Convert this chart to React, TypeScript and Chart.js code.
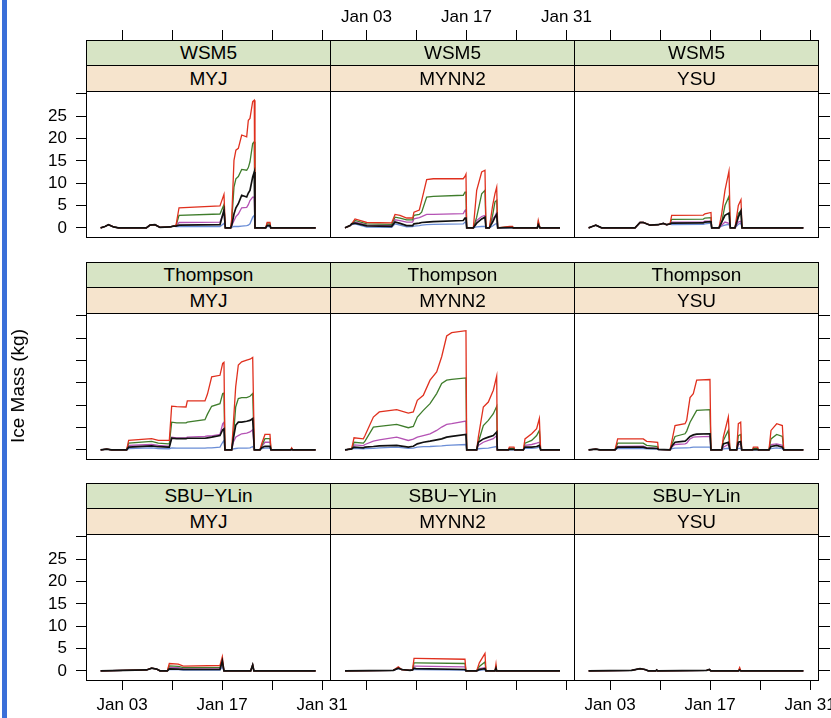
import React, { useEffect, useRef } from "react";
import { Chart, registerables } from "chart.js";

Chart.register(...registerables);

// ---------- data ----------
const X_TICKS = [3, 10, 17, 24, 31];
const X_LABELS = ["Jan 03", "", "Jan 17", "", "Jan 31"];
const Y_TICKS = [0, 5, 10, 15, 20, 25, 30];
const Y_LABELS = ["0", "5", "10", "15", "20", "25", ""];

const ROW_NAMES = ["WSM5", "Thompson", "SBU\u2212YLin"];
const COL_NAMES = ["MYJ", "MYNN2", "YSU"];

// Panel 1: WSM5 / MYJ
const P1_T = [0.0, 0.6, 1.1, 1.8, 2.5, 6.4, 6.9, 7.6, 8.3, 9.7, 10.2, 10.55, 10.97, 16.7, 17.26, 17.45, 18.2, 18.34, 18.66, 18.93, 19.27, 19.74, 20.44, 20.67, 20.9, 21.28, 21.5, 21.6, 23.1, 23.3, 23.7, 23.8, 30.1];
const P1_RED = [0, 0.3, 0.7, 0.2, 0, 0, 0.6, 0.7, 0.1, 0.2, 0.4, 0.6, 4.5, 4.9, 7.5, 0, 0, 2.0, 15.1, 17.4, 17.8, 20.8, 20.4, 24.1, 24.5, 28.3, 28.6, 0, 0, 1.2, 1.2, 0, 0];
const P1_GREEN = [0, 0.3, 0.7, 0.2, 0, 0, 0.6, 0.7, 0.1, 0.2, 0.4, 0.5, 2.8, 3.1, 5.2, 0, 0, 1.3, 9.1, 11.0, 11.5, 13.1, 12.9, 13.5, 14.8, 18.9, 19.3, 0, 0, 0.9, 0.9, 0, 0];
const P1_PURPLE = [0, 0.3, 0.7, 0.2, 0, 0, 0.6, 0.7, 0.1, 0.2, 0.4, 0.4, 1.2, 1.3, 3.5, 0, 0, 0.5, 1.6, 2.5, 3.1, 4.5, 4.6, 5.2, 6.1, 6.9, 6.9, 0, 0, 0.6, 0.6, 0, 0];
const P1_BLACK = [0, 0.3, 0.7, 0.2, 0, 0, 0.6, 0.7, 0.1, 0.2, 0.4, 0.4, 0.6, 0.7, 4.0, 0, 0, 0.5, 3.1, 4.5, 5.4, 7.3, 6.9, 7.8, 8.4, 11.4, 12.5, 0, 0, 0.5, 0.5, 0, 0];
const P1_BLUE = [0, 0.3, 0.7, 0.2, 0, 0, 0.6, 0.7, 0.1, 0.2, 0.4, 0.3, 0.3, 0.3, 1.0, 0, 0, 0.1, 0.3, 0.3, 0.3, 0.4, 0.5, 0.6, 0.9, 2.4, 2.8, 0, 0, 0.3, 0.3, 0, 0];

// Panel 2: WSM5 / MYNN2
const P2_T = [0.05, 0.75, 1.0, 1.45, 3.1, 6.58, 7.05, 7.75, 8.68, 9.52, 9.7, 10.45, 10.78, 11.48, 12.41, 16.6, 16.84, 16.98, 17.08, 18.01, 18.48, 19.18, 19.64, 19.78, 20.25, 20.71, 21.04, 21.28, 21.42, 23.1, 23.5, 23.6, 26.97, 27.1, 27.34, 30.14];
const P2_RED = [0, 0.5, 0.9, 2.0, 1.2, 1.1, 3.0, 2.8, 2.2, 2.2, 3.5, 4.0, 6.1, 10.8, 11.0, 11.0, 11.5, 12.0, 0, 0, 8.4, 12.5, 12.9, 0, 0, 5.0, 7.65, 9.1, 0, 0.3, 0.3, 0, 0, 1.65, 0, 0];
const P2_GREEN = [0, 0.5, 0.9, 1.65, 0.9, 0.8, 2.4, 2.2, 1.8, 1.8, 2.8, 3.0, 3.5, 6.9, 7.05, 7.3, 8.0, 8.0, 0, 0, 2.4, 7.6, 8.4, 0, 0, 2.8, 5.8, 6.15, 0, 0.2, 0.2, 0, 0, 1.3, 0, 0];
const P2_PURPLE = [0, 0.5, 0.9, 1.3, 0.6, 0.5, 1.8, 1.6, 1.3, 1.3, 2.0, 2.3, 2.5, 3.0, 3.0, 3.2, 3.9, 4.05, 0, 0, 1.65, 2.55, 2.8, 0, 0, 2.0, 2.6, 3.5, 0, 0.1, 0.1, 0, 0, 0.9, 0, 0];
const P2_BLACK = [0, 0.5, 0.9, 1.05, 0.45, 0.35, 1.3, 1.0, 0.5, 0.5, 0.9, 1.05, 1.2, 1.3, 1.4, 1.65, 2.2, 2.2, 0, 0, 1.05, 2.0, 2.4, 0, 0, 1.3, 2.4, 3.0, 0, 0.05, 0.05, 0, 0, 0.7, 0, 0];
const P2_BLUE = [0, 0.5, 0.7, 0.9, 0.15, 0.1, 0.9, 0.6, 0.2, 0.3, 0.4, 0.5, 0.6, 0.7, 0.8, 0.9, 1.3, 1.3, 0, 0, 0.2, 0.3, 0.3, 0, 0, 0.4, 0.8, 1.0, 0, 0, 0, 0, 0, 0.5, 0, 0];

// Panel 3: WSM5 / YSU
const P3_T = [0.0, 0.5, 1.0, 1.82, 6.49, 7.19, 7.65, 8.59, 9.75, 10.45, 10.92, 11.39, 11.62, 16.05, 16.28, 17.12, 17.22, 18.24, 18.62, 19.08, 19.64, 19.83, 20.48, 20.95, 21.32, 21.46, 30.05];
const P3_RED = [0, 0.3, 0.6, 0, 0, 1.2, 1.2, 0.6, 0.7, 1.0, 0.7, 0.9, 2.8, 2.85, 3.15, 3.45, 0, 0, 3.15, 8.4, 12.7, 0, 0, 5.0, 6.3, 0, 0];
const P3_GREEN = [0, 0.3, 0.6, 0, 0, 1.2, 1.2, 0.6, 0.7, 1.0, 0.7, 0.9, 1.9, 1.95, 2.2, 2.3, 0, 0, 1.3, 5.0, 7.05, 0, 0, 3.2, 3.9, 0, 0];
const P3_PURPLE = [0, 0.3, 0.6, 0, 0, 1.2, 1.2, 0.6, 0.7, 1.0, 0.7, 0.9, 1.3, 1.35, 1.5, 1.5, 0, 0, 0.6, 1.3, 1.0, 0, 0, 1.3, 1.5, 0, 0];
const P3_BLACK = [0, 0.3, 0.6, 0, 0, 1.2, 1.2, 0.6, 0.7, 1.0, 0.7, 0.9, 1.05, 1.1, 1.3, 1.4, 0, 0, 1.3, 2.8, 3.3, 0, 0, 2.4, 3.75, 0, 0];
const P3_BLUE = [0, 0.3, 0.6, 0, 0, 1.2, 1.2, 0.6, 0.7, 1.0, 0.7, 0.9, 0.75, 0.8, 0.9, 1.05, 0, 0, 0.4, 0.6, 0.8, 0, 0, 0.8, 1.05, 0, 0];

// Panel 4: Thompson / MYJ
const P4_T = [0.0, 0.84, 1.54, 3.64, 3.92, 7.14, 8.07, 9.47, 9.61, 9.94, 10.64, 11.95, 12.13, 14.6, 14.95, 15.54, 16.7, 17.08, 17.26, 17.4, 18.34, 18.57, 18.9, 19.27, 19.74, 20.44, 20.9, 21.28, 21.51, 22.3, 22.54, 23.0, 23.7, 23.84, 26.6, 26.73, 26.9, 30.09];
const P4_RED = [0, 0.15, 0, 0, 2.1, 2.5, 2.1, 2.1, 2.1, 9.8, 9.7, 9.6, 10.95, 10.95, 12.5, 16.35, 16.7, 19.35, 19.6, 0, 0, 5.85, 14.1, 19.0, 19.7, 20.1, 20.3, 20.7, 0, 0, 1.35, 3.45, 3.45, 0, 0, 0.45, 0, 0];
const P4_GREEN = [0, 0.15, 0, 0, 1.5, 1.9, 1.5, 1.35, 1.35, 6.2, 6.05, 6.05, 6.2, 6.75, 8.0, 9.75, 10.35, 12.6, 12.7, 0, 0, 2.85, 9.6, 11.5, 11.7, 11.7, 12.0, 12.6, 0, 0, 0.9, 2.5, 2.5, 0, 0, 0.2, 0, 0];
const P4_PURPLE = [0, 0.15, 0, 0, 1.0, 1.2, 1.0, 0.85, 0.85, 2.85, 2.7, 2.7, 2.85, 3.0, 3.1, 3.15, 3.45, 5.85, 6.2, 0, 0, 1.7, 2.85, 3.2, 3.6, 3.75, 4.0, 4.5, 0, 0, 0.7, 1.7, 1.7, 0, 0, 0.1, 0, 0];
const P4_BLACK = [0, 0.15, 0, 0, 0.6, 0.9, 0.7, 0.6, 0.6, 2.6, 2.5, 2.5, 2.6, 2.6, 2.7, 2.85, 3.2, 4.5, 4.7, 0, 0, 2.5, 5.5, 6.2, 6.2, 6.4, 6.6, 7.0, 0, 0, 0.5, 0.8, 0.8, 0, 0, 0.1, 0, 0];
const P4_BLUE = [0, 0.15, 0, 0, 0.3, 0.45, 0.3, 0.25, 0.25, 0.45, 0.4, 0.4, 0.4, 0.4, 0.45, 0.45, 0.6, 1.7, 2.1, 0, 0, 0.2, 0.3, 0.4, 0.4, 0.4, 0.45, 0.75, 0, 0, 0.3, 0.4, 0.4, 0, 0, 0, 0, 0];

// Panel 5: Thompson / MYNN2
const P5_T = [0.05, 0.98, 1.31, 2.62, 2.85, 4.02, 4.85, 7.28, 8.91, 9.61, 10.17, 11.01, 11.95, 12.88, 13.58, 14.28, 14.98, 16.98, 17.08, 18.48, 18.71, 19.41, 20.11, 20.81, 21.28, 21.37, 22.91, 23.05, 23.7, 23.8, 25.01, 25.24, 26.18, 26.87, 27.25, 27.43, 30.14];
const P5_RED = [0, 0.2, 2.7, 2.45, 3.2, 7.35, 8.5, 9.0, 8.25, 8.5, 11.1, 12.2, 15.6, 17.45, 20.85, 25.5, 26.25, 26.7, 0, 0, 2.85, 9.6, 10.7, 13.35, 16.5, 0, 0, 0.6, 0.6, 0, 0, 2.45, 3.6, 4.75, 7.0, 0, 0];
const P5_GREEN = [0, 0.2, 1.7, 1.5, 1.95, 5.1, 5.25, 5.7, 4.95, 5.25, 7.35, 8.85, 10.35, 12.6, 14.85, 15.6, 15.8, 16.1, 0, 0, 1.7, 5.45, 6.6, 8.1, 9.75, 0, 0, 0.3, 0.3, 0, 0, 1.5, 2.1, 3.2, 4.35, 0, 0];
const P5_PURPLE = [0, 0.2, 1.1, 0.95, 1.2, 1.95, 2.25, 2.85, 2.1, 2.4, 2.85, 3.2, 3.6, 4.35, 5.1, 5.7, 5.85, 6.45, 0, 0, 1.0, 1.7, 2.1, 2.5, 3.2, 0, 0, 0.2, 0.2, 0, 0, 1.0, 1.2, 1.5, 1.7, 0, 0];
const P5_BLACK = [0, 0.2, 0.6, 0.45, 0.6, 0.75, 0.9, 1.0, 0.6, 0.8, 1.35, 1.7, 1.95, 2.25, 2.45, 2.85, 3.0, 3.45, 0, 0, 1.7, 2.45, 2.85, 3.2, 4.0, 0, 0, 0.1, 0.1, 0, 0, 0.6, 0.6, 0.75, 1.0, 0, 0];
const P5_BLUE = [0, 0.2, 0.35, 0.25, 0.3, 0.35, 0.45, 0.6, 0.35, 0.4, 0.6, 0.7, 0.75, 0.85, 0.9, 1.0, 1.05, 1.2, 0, 0, 0.25, 0.35, 0.4, 0.6, 0.75, 0, 0, 0, 0, 0, 0, 0.35, 0.35, 0.45, 0.6, 0, 0];

// Panel 6: Thompson / YSU
const P6_T = [0.0, 1.0, 1.6, 3.69, 4.06, 7.65, 8.12, 9.66, 9.75, 11.39, 11.71, 12.09, 13.49, 13.72, 14.19, 14.65, 15.12, 16.98, 17.12, 18.62, 18.85, 19.55, 19.78, 20.72, 20.95, 21.28, 21.42, 22.95, 23.05, 23.66, 23.75, 25.24, 25.52, 26.32, 27.11, 27.3, 30.05];
const P6_RED = [0, 0.15, 0, 0, 2.45, 2.45, 1.9, 1.7, 0.1, 0, 2.45, 5.45, 5.85, 6.6, 11.7, 12.6, 15.6, 15.75, 0, 0, 2.85, 7.35, 0, 0, 5.85, 6.2, 0, 0, 0.6, 0.6, 0, 0, 4.35, 5.85, 5.45, 0, 0];
const P6_GREEN = [0, 0.15, 0, 0, 1.5, 1.5, 1.0, 0.75, 0.1, 0, 1.5, 3.0, 3.6, 4.2, 6.2, 7.5, 8.85, 9.0, 0, 0, 2.1, 4.35, 0, 0, 3.2, 3.45, 0, 0, 0.3, 0.3, 0, 0, 2.45, 3.45, 3.0, 0, 0];
const P6_PURPLE = [0, 0.15, 0, 0, 0.75, 0.8, 0.5, 0.35, 0.1, 0, 0.75, 1.2, 1.35, 1.5, 2.45, 2.85, 2.9, 3.0, 0, 0, 0.6, 1.2, 0, 0, 1.2, 1.35, 0, 0, 0.1, 0.1, 0, 0, 1.2, 1.35, 1.0, 0, 0];
const P6_BLACK = [0, 0.15, 0, 0, 0.6, 0.6, 0.4, 0.3, 0.1, 0, 1.0, 1.7, 1.95, 2.25, 3.0, 3.35, 3.5, 3.6, 0, 0, 1.35, 1.7, 0, 0, 1.7, 1.85, 0, 0, 0.05, 0.05, 0, 0, 0.75, 1.0, 0.6, 0, 0];
const P6_BLUE = [0, 0.15, 0, 0, 0.3, 0.3, 0.2, 0.15, 0.05, 0, 0.3, 0.4, 0.45, 0.45, 0.5, 0.6, 0.6, 0.6, 0, 0, 0.2, 0.35, 0, 0, 0.35, 0.35, 0, 0, 0, 0, 0, 0, 0.3, 0.45, 0.3, 0, 0];

// Panel 7: SBU-YLin / MYJ
const P7_T = [0.0, 6.44, 7.14, 7.84, 8.31, 9.33, 9.61, 10.87, 11.57, 16.7, 17.03, 17.26, 21.0, 21.28, 21.45, 30.09];
const P7_RED = [0, 0.2, 0.6, 0.4, 0, 0, 1.65, 1.5, 1.05, 1.2, 3.15, 0, 0, 1.3, 0, 0];
const P7_GREEN = [0, 0.2, 0.6, 0.4, 0, 0, 1.1, 1.0, 0.7, 0.8, 2.0, 0, 0, 1.3, 0, 0];
const P7_PURPLE = [0, 0.2, 0.6, 0.4, 0, 0, 0.75, 0.7, 0.45, 0.5, 1.6, 0, 0, 1.3, 0, 0];
const P7_BLACK = [0, 0.2, 0.6, 0.4, 0, 0, 0.45, 0.4, 0.3, 0.3, 2.25, 0, 0, 1.3, 0, 0];
const P7_BLUE = [0, 0.2, 0.6, 0.4, 0, 0, 0.3, 0.3, 0.15, 0.15, 0.9, 0, 0, 1.3, 0, 0];

// Panel 8: SBU-YLin / MYNN2
const P8_T = [0.05, 6.81, 7.51, 7.98, 9.15, 9.5, 9.71, 9.99, 16.84, 16.98, 18.48, 18.85, 19.64, 19.78, 21.04, 21.18, 21.28, 30.14];
const P8_RED = [0, 0.1, 0.9, 0.3, 0.1, 0.2, 2.8, 2.8, 2.6, 0, 0, 1.8, 3.9, 0, 0, 1.5, 0, 0];
const P8_GREEN = [0, 0.1, 0.7, 0.3, 0.1, 0.2, 1.8, 1.8, 1.65, 0, 0, 1.0, 2.0, 0, 0, 0.9, 0, 0];
const P8_PURPLE = [0, 0.1, 0.6, 0.3, 0.1, 0.2, 1.05, 1.05, 0.9, 0, 0, 0.5, 0.7, 0, 0, 0.6, 0, 0];
const P8_BLACK = [0, 0.1, 0.6, 0.3, 0.1, 0.2, 0.6, 0.5, 0.3, 0, 0, 0.3, 0.5, 0, 0, 0.6, 0, 0];
const P8_BLUE = [0, 0.1, 0.5, 0.3, 0.1, 0.2, 0.3, 0.3, 0.15, 0, 0, 0.1, 0.3, 0, 0, 0.3, 0, 0];

// Panel 9: SBU-YLin / YSU
const P9_T = [0.0, 6.02, 7.19, 7.89, 8.35, 9.4, 9.52, 9.65, 16.52, 16.89, 17.1, 20.95, 21.14, 21.3, 30.05];
const P9_RED = [0, 0.1, 0.5, 0.3, 0, 0, 0.2, 0, 0.1, 0.3, 0, 0, 0.75, 0, 0];
const P9_GREEN = [0, 0.1, 0.5, 0.3, 0, 0, 0.2, 0, 0.1, 0.3, 0, 0, 0.4, 0, 0];
const P9_PURPLE = [0, 0.1, 0.5, 0.3, 0, 0, 0.2, 0, 0.1, 0.3, 0, 0, 0.3, 0, 0];
const P9_BLACK = [0, 0.1, 0.5, 0.3, 0, 0, 0.2, 0, 0.1, 0.3, 0, 0, 0.2, 0, 0];
const P9_BLUE = [0, 0.1, 0.5, 0.3, 0, 0, 0.2, 0, 0.1, 0.3, 0, 0, 0.1, 0, 0];

const PANELS = [
  [P1_T, P1_RED, P1_GREEN, P1_PURPLE, P1_BLACK, P1_BLUE],
  [P2_T, P2_RED, P2_GREEN, P2_PURPLE, P2_BLACK, P2_BLUE],
  [P3_T, P3_RED, P3_GREEN, P3_PURPLE, P3_BLACK, P3_BLUE],
  [P4_T, P4_RED, P4_GREEN, P4_PURPLE, P4_BLACK, P4_BLUE],
  [P5_T, P5_RED, P5_GREEN, P5_PURPLE, P5_BLACK, P5_BLUE],
  [P6_T, P6_RED, P6_GREEN, P6_PURPLE, P6_BLACK, P6_BLUE],
  [P7_T, P7_RED, P7_GREEN, P7_PURPLE, P7_BLACK, P7_BLUE],
  [P8_T, P8_RED, P8_GREEN, P8_PURPLE, P8_BLACK, P8_BLUE],
  [P9_T, P9_RED, P9_GREEN, P9_PURPLE, P9_BLACK, P9_BLUE],
];

// ---------- layout / style ----------
const FONT = "'Liberation Sans', Arial, Helvetica, sans-serif";
const COL_LEFT = [86, 330, 574];
const ROW_TOP = [91, 313, 534];
const PW = 244;
const PH = 146;
const LEFT_M = 60;
const RIGHT_M = 20;
const TOP_M = 91;
const BOTTOM_M = 40;
const STRIP_H = 25.5;
const X_MIN = -2.05;
const X_MAX = 32.1;
const Y_MIN = -2.05;
const Y_MAX = 30.65;
const COLORS = { red: "#e0301e", green: "#3f7d2c", purple: "#b452b4", black: "#111111", blue: "#6a8dd6" };

const framePlugin = {
  id: "frame",
  afterDraw(chart: any, _args: any, opts: any) {
    const { ctx, chartArea: a } = chart;
    ctx.save();
    ctx.strokeStyle = "#000";
    ctx.lineWidth = 1;
    ctx.strokeRect(a.left + 0.5, a.top + 0.5, a.right - a.left, a.bottom - a.top);
    if (opts.topTicks) {
      const sx = chart.scales.x;
      const stripTop = Math.round(a.top - 2 * STRIP_H);
      ctx.fillStyle = "#000";
      ctx.font = `17px ${FONT}`;
      ctx.textAlign = "center";
      ctx.textBaseline = "alphabetic";
      X_TICKS.forEach((v, i) => {
        const px = Math.round(sx.getPixelForValue(v)) + 0.5;
        ctx.beginPath();
        ctx.moveTo(px, stripTop - 10);
        ctx.lineTo(px, stripTop);
        ctx.stroke();
        if (opts.topLabels && X_LABELS[i]) ctx.fillText(X_LABELS[i], px, stripTop - 18);
      });
    }
    ctx.restore();
  },
};

function fixSize(prop: "width" | "height", size: number) {
  return (s: any) => {
    s[prop] = size;
    s.paddingLeft = 0;
    s.paddingRight = 0;
    s.paddingTop = 0;
    s.paddingBottom = 0;
  };
}

function Panel({ r, c }: { r: number; c: number }) {
  const ref = useRef<HTMLCanvasElement | null>(null);
  const W = PW + LEFT_M + RIGHT_M;
  const H = PH + TOP_M + BOTTOM_M;
  useEffect(() => {
    const [t, red, green, purple, black, blue] = PANELS[r * 3 + c];
    const mk = (arr: number[]) => t.map((x, i) => ({ x, y: arr[i] }));
    const ds = (label: string, arr: number[], color: string, w: number) => ({
      label,
      data: mk(arr),
      borderColor: color,
      borderWidth: w,
      pointRadius: 0,
      tension: 0,
      fill: false,
    });
    const chart = new Chart(ref.current as HTMLCanvasElement, {
      type: "line",
      data: {
        datasets: [
          ds("black", black, COLORS.black, 1.7),
          ds("red", red, COLORS.red, 1.3),
          ds("green", green, COLORS.green, 1.3),
          ds("purple", purple, COLORS.purple, 1.3),
          ds("blue", blue, COLORS.blue, 1.3),
        ],
      },
      options: {
        animation: false,
        responsive: false,
        events: [],
        layout: { padding: { top: TOP_M, left: 0, right: 0, bottom: 0 } },
        plugins: {
          legend: { display: false },
          tooltip: { enabled: false },
          frame: { topTicks: r === 0, topLabels: r === 0 && c === 1 },
        } as any,
        scales: {
          x: {
            type: "linear",
            position: "bottom",
            min: X_MIN,
            max: X_MAX,
            afterBuildTicks: (s: any) => {
              s.ticks = X_TICKS.map((v) => ({ value: v }));
            },
            afterFit: fixSize("height", BOTTOM_M),
            border: { display: false },
            grid: { display: r === 2, drawOnChartArea: false, drawTicks: true, tickLength: 10, color: "#000", lineWidth: 1 },
            ticks: {
              display: r === 2 && c !== 1,
              autoSkip: false,
              maxRotation: 0,
              padding: 5,
              color: "#000",
              font: { family: FONT, size: 17 },
              callback: (v: any) => X_LABELS[X_TICKS.indexOf(v)] ?? "",
            },
          },
          y: {
            type: "linear",
            position: "left",
            min: Y_MIN,
            max: Y_MAX,
            afterBuildTicks: (s: any) => {
              s.ticks = Y_TICKS.map((v) => ({ value: v }));
            },
            afterFit: fixSize("width", LEFT_M),
            border: { display: false },
            grid: { display: c === 0, drawOnChartArea: false, drawTicks: true, tickLength: 10, color: "#000", lineWidth: 1 },
            ticks: {
              display: c === 0 && r !== 1,
              padding: 9,
              color: "#000",
              font: { family: FONT, size: 17 },
              callback: (v: any) => Y_LABELS[Y_TICKS.indexOf(v)] ?? "",
            },
          },
          y2: {
            type: "linear",
            position: "right",
            min: Y_MIN,
            max: Y_MAX,
            afterBuildTicks: (s: any) => {
              s.ticks = Y_TICKS.map((v) => ({ value: v }));
            },
            afterFit: fixSize("width", RIGHT_M),
            border: { display: false },
            grid: { display: c === 2, drawOnChartArea: false, drawTicks: true, tickLength: 12, color: "#000", lineWidth: 1 },
            ticks: { display: false },
          },
        },
      } as any,
      plugins: [framePlugin],
    });
    return () => chart.destroy();
  }, [r, c]);
  return (
    <canvas
      ref={ref}
      width={W}
      height={H}
      style={{ position: "absolute", left: COL_LEFT[c] - LEFT_M, top: ROW_TOP[r] - TOP_M, width: W, height: H }}
    />
  );
}

function Strip({ r, c }: { r: number; c: number }) {
  const left = COL_LEFT[c];
  const top = ROW_TOP[r];
  const base: React.CSSProperties = {
    position: "absolute",
    left,
    width: PW + 1,
    boxSizing: "border-box",
    border: "1px solid #000",
    textAlign: "center",
    fontFamily: FONT,
    fontSize: 19,
    color: "#000",
    overflow: "hidden",
  };
  return (
    <>
      <div style={{ ...base, top: top - 51, height: 26, lineHeight: "24px", background: "#d7e4c5" }}>{ROW_NAMES[r]}</div>
      <div style={{ ...base, top: top - 26, height: 27, lineHeight: "25px", background: "#f6e4cd" }}>{COL_NAMES[c]}</div>
    </>
  );
}

export default function App() {
  const cells: { r: number; c: number }[] = [];
  for (let r = 0; r < 3; r++) for (let c = 0; c < 3; c++) cells.push({ r, c });
  return (
    <div style={{ position: "absolute", left: 0, top: 0, width: 831, height: 718, overflow: "hidden", background: "#fff" }}>
      <div style={{ position: "absolute", left: 2, top: 0, width: 5, height: 718, background: "#3a6fd8" }} />
      {cells.map(({ r, c }) => (
        <Panel key={`p${r}${c}`} r={r} c={c} />
      ))}
      {cells.map(({ r, c }) => (
        <Strip key={`s${r}${c}`} r={r} c={c} />
      ))}
      <div
        style={{
          position: "absolute",
          left: 18,
          top: 386,
          transform: "translate(-50%, -50%) rotate(-90deg)",
          whiteSpace: "nowrap",
          fontFamily: FONT,
          fontSize: 19,
          color: "#000",
        }}
      >
        Ice Mass (kg)
      </div>
    </div>
  );
}
